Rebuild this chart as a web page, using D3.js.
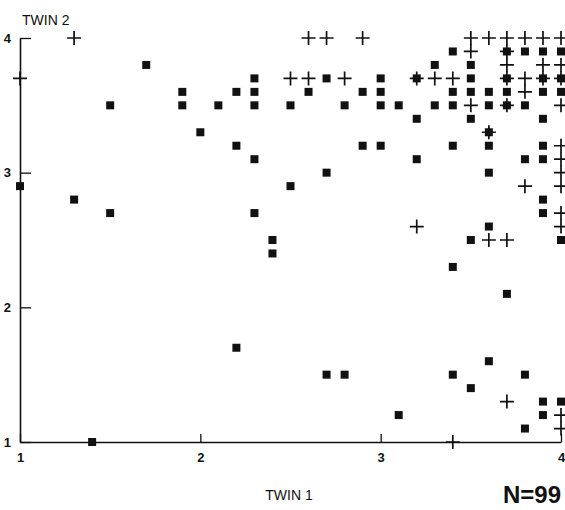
<!DOCTYPE html>
<html>
<head>
<meta charset="utf-8">
<script src="https://cdn.jsdelivr.net/npm/d3@7"></script>
<style>
  body { margin: 0; background: #fff; }
  svg { display: block; font-family: "Liberation Sans", Arial, sans-serif; }
</style>
</head>
<body>
<div id="chart"></div>
<script>
// twin 1 / twin 2 scores, squares
const squareX = [1.0,1.3,1.5,1.5,1.7,1.4,1.9,1.9,
  2.0,2.1,2.2,2.3,2.3,2.3,2.5,2.6,2.7,2.8,2.9,3.0,3.0,3.0,
  2.2,2.3,2.5,2.7,2.3,2.4,2.4,2.2,2.7,2.8,2.9,3.0,3.1,3.1,3.2,3.2,
  3.4,3.7,3.8,3.9,4.0, 3.3,3.5, 3.2,3.5,3.7,3.9,4.0,
  3.4,3.5,3.6,3.7,3.9,4.0, 3.3,3.4,3.6,3.7,3.8, 3.5,3.9, 3.6,
  3.4,3.6,3.9, 3.8,3.9, 3.6, 3.9,3.9,3.6,3.5,4.0,
  3.4,3.7,3.6,3.4,3.8,3.5,3.9,4.0,3.9,3.8];
const squareY = [2.9,2.8,3.5,2.7,3.8,1.0,3.6,3.5,
  3.3,3.5,3.6,3.7,3.6,3.5,3.5,3.6,3.7,3.5,3.6,3.7,3.6,3.5,
  3.2,3.1,2.9,3.0,2.7,2.5,2.4,1.7,1.5,1.5,3.2,3.2,1.2,3.5,3.4,3.1,
  3.9,3.9,3.9,3.9,3.9, 3.8,3.8, 3.7,3.7,3.7,3.7,3.7,
  3.6,3.6,3.6,3.6,3.6,3.6, 3.5,3.5,3.5,3.5,3.5, 3.4,3.4, 3.3,
  3.2,3.2,3.2, 3.1,3.1, 3.0, 2.8,2.7,2.6,2.5,2.5,
  2.3,2.1,1.6,1.5,1.5,1.4,1.3,1.3,1.2,1.1];

// crosses
const plusX = [1.3,1.0,2.6,2.7,2.9,2.5,2.6,2.8,
  3.5,3.6,3.7,3.8,3.9,4.0, 3.5,3.7, 3.7,3.9,4.0,
  3.2,3.3,3.4,3.7,3.8,3.9,4.0, 3.8, 3.5,3.7,4.0, 3.6,
  4.0,4.0,4.0,3.8,4.0,4.0,4.0,3.2, 3.6,3.7,
  3.7,4.0,4.0,3.4];
const plusY = [4.0,3.7,4.0,4.0,4.0,3.7,3.7,3.7,
  4.0,4.0,4.0,4.0,4.0,4.0, 3.9,3.9, 3.8,3.8,3.8,
  3.7,3.7,3.7,3.7,3.7,3.7,3.7, 3.6, 3.5,3.5,3.5, 3.3,
  3.2,3.1,3.0,2.9,2.9,2.7,2.6,2.6, 2.5,2.5,
  1.3,1.2,1.1,1.0];

const tickVals = [1, 2, 3, 4];

const W = 565, H = 510;
const svg = d3.select('#chart').append('svg')
  .attr('width', W).attr('height', H);

const x = d3.scaleLinear().domain([1, 4]).range([20, 561]);
const y = d3.scaleLinear().domain([1, 4]).range([442, 38]);

const yAxis = d3.axisLeft(y).tickValues(tickVals).tickFormat(d3.format('d'))
  .tickSizeInner(-11).tickSizeOuter(0).tickPadding(9);
const xAxis = d3.axisBottom(x).tickValues(tickVals).tickFormat(d3.format('d'))
  .tickSizeInner(-8).tickSizeOuter(0).tickPadding(11);

const styleAxis = g => {
  g.select('.domain').attr('stroke', '#111').attr('stroke-width', 1.6);
  g.selectAll('.tick line').attr('stroke', '#111').attr('stroke-width', 1.3);
  g.selectAll('.tick text').attr('fill', '#111')
    .style('font-size', '13px').style('font-weight', 'bold')
    .style('font-family', '"Liberation Sans", Arial, sans-serif');
};

svg.append('g').attr('transform', 'translate(20,0)').call(yAxis).call(styleAxis);
svg.append('g').attr('transform', 'translate(0,442)').call(xAxis).call(styleAxis);

// filled squares
const sq = 8;
svg.append('g').selectAll('rect')
  .data(d3.range(squareX.length))
  .join('rect')
  .attr('x', i => x(squareX[i]) - sq / 2)
  .attr('y', i => y(squareY[i]) - sq / 2)
  .attr('width', sq).attr('height', sq)
  .attr('fill', '#111');

// plus markers
const arm = 7;
svg.append('g').selectAll('path')
  .data(d3.range(plusX.length))
  .join('path')
  .attr('d', i => {
    const cx = x(plusX[i]), cy = y(plusY[i]);
    return `M${cx - arm},${cy}H${cx + arm}M${cx},${cy - arm}V${cy + arm}`;
  })
  .attr('stroke', '#111').attr('stroke-width', 1.7).attr('fill', 'none');

svg.append('text').attr('x', 22).attr('y', 25)
  .style('font-size', '14px').attr('fill', '#111').text('TWIN 2');
svg.append('text').attr('x', 289).attr('y', 500).attr('text-anchor', 'middle')
  .style('font-size', '14px').attr('fill', '#111').text('TWIN 1');
svg.append('text').attr('x', 561).attr('y', 503).attr('text-anchor', 'end')
  .style('font-size', '24px').style('font-weight', 'bold').attr('fill', '#111').text('N=99');
</script>
</body>
</html>
